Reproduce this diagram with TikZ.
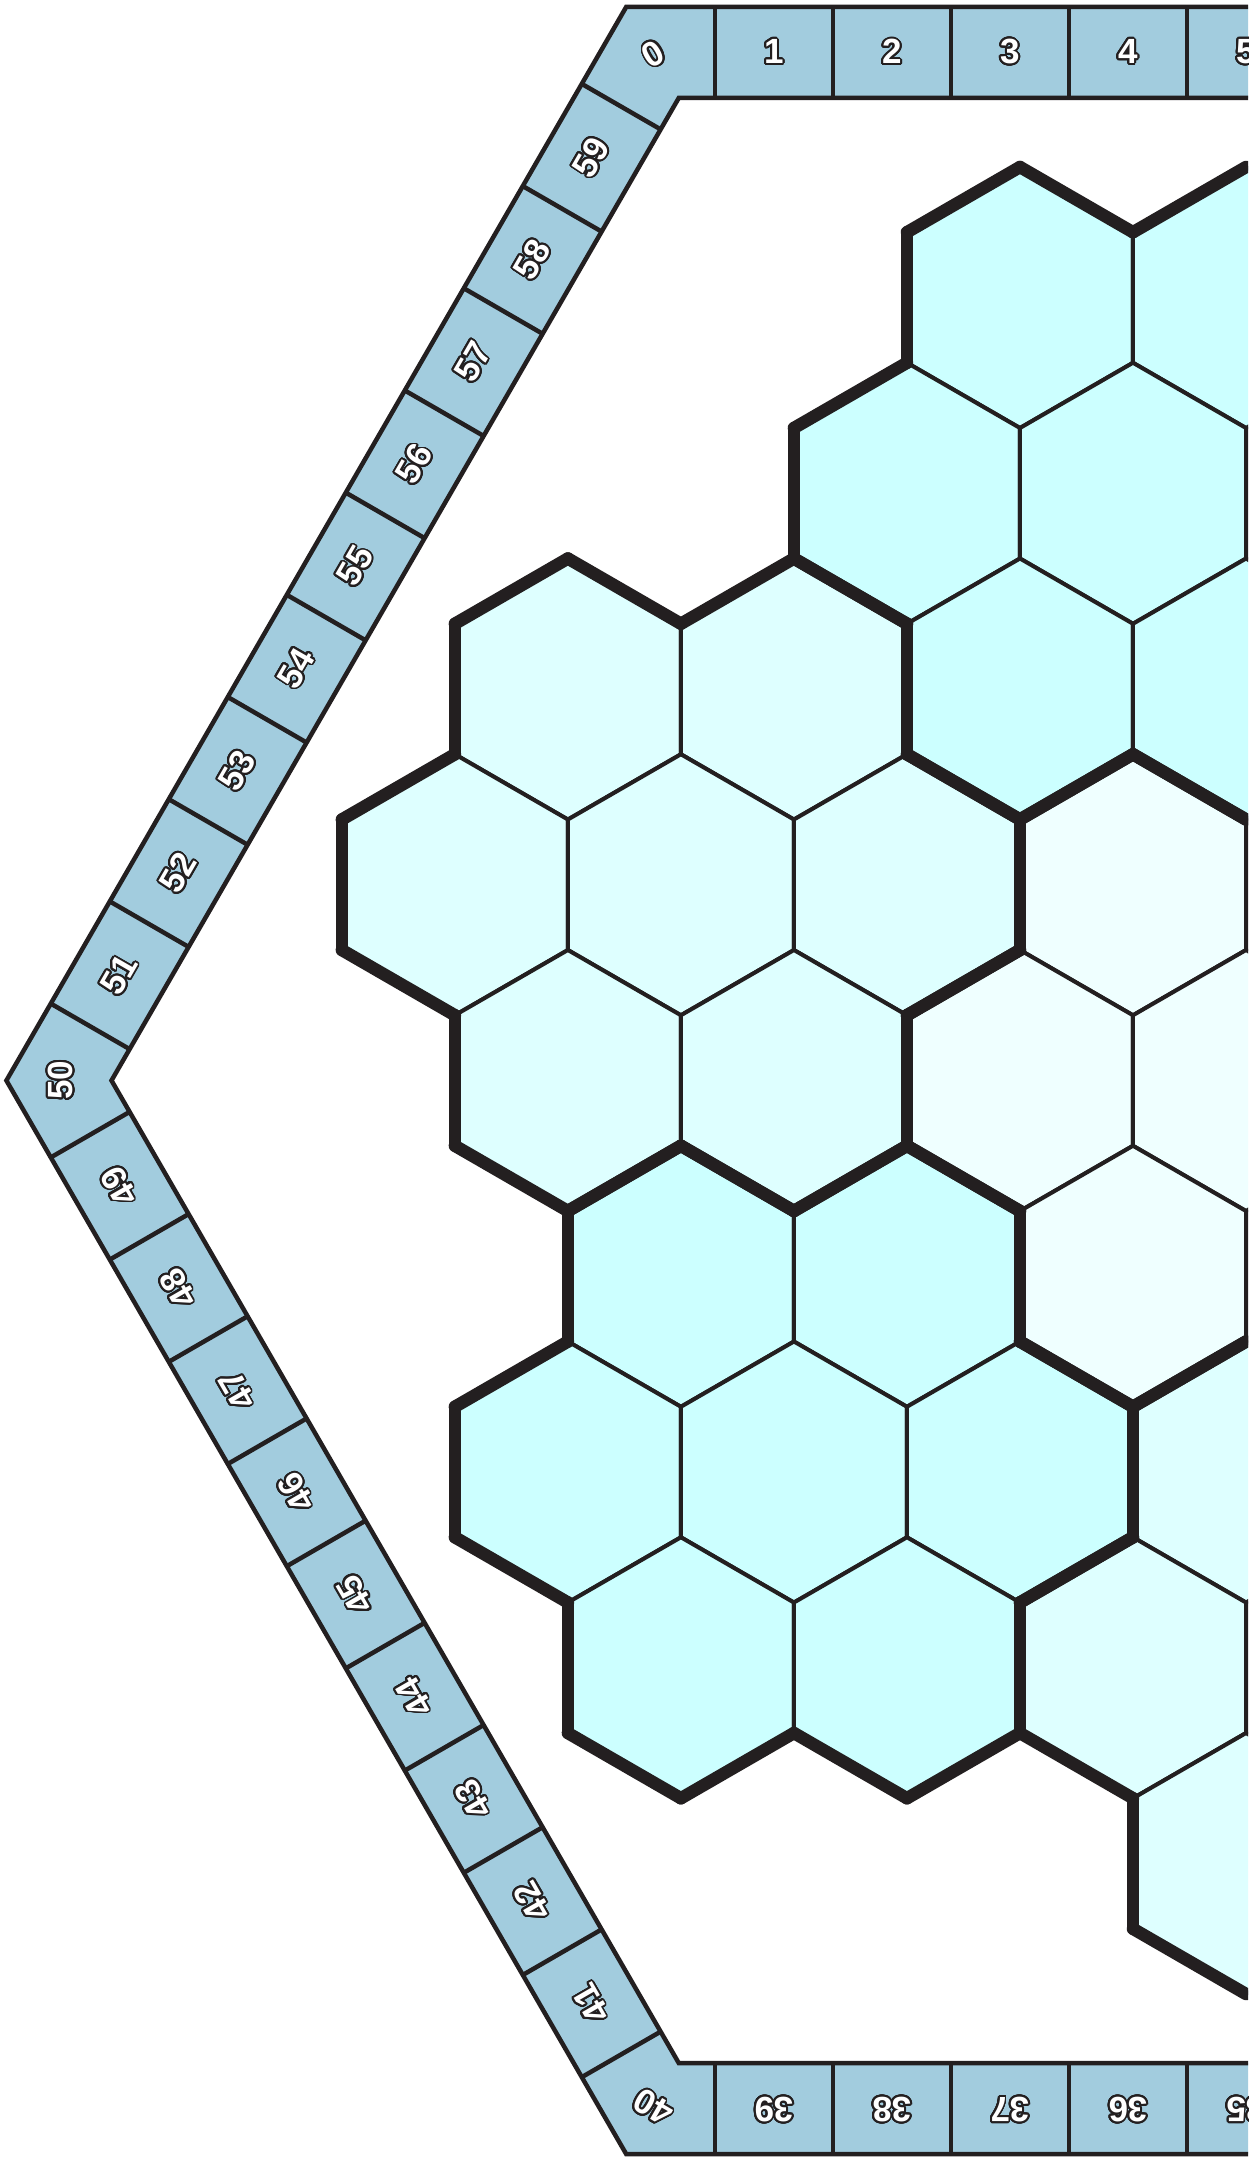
\documentclass[tikz,border=0pt]{standalone}
\usepackage{fontspec}
\setmainfont{Liberation Sans}
\usepackage{contour}
\contourlength{0.9pt}
\contournumber{32}
\usetikzlibrary{calc}
\definecolor{ink}{RGB}{35,31,32}
\definecolor{trackfill}{RGB}{162,204,222}
\definecolor{hexA}{RGB}{204,255,255}
\definecolor{hexB}{RGB}{222,255,255}
\definecolor{hexC}{RGB}{239,255,255}
\definecolor{hexD}{RGB}{204,255,255}
\definecolor{hexE}{RGB}{222,255,255}
\tikzset{
  trackline/.style={draw=ink, line width=2.25pt, line join=miter},
  hexcell/.style={draw=ink, line width=2pt, line join=miter},
  regionedge/.style={draw=ink, line width=6.25pt, line cap=round},
  cellnum/.style={text=white, font=\fontsize{17.5}{20}\selectfont\bfseries, inner sep=0pt},
}
\def\hexlist{0/-2/A,0/0/A,1/-3/A,1/-1/A,2/-2/A,2/0/A,2/-6/B,2/-4/B,3/-7/B,3/-5/B,3/-3/B,4/-6/B,4/-4/B,3/-1/C,4/-2/C,4/0/C,5/-1/C,5/-5/D,5/-3/D,6/-6/D,6/-4/D,6/-2/D,7/-5/D,7/-3/D,6/0/E,7/-1/E,8/0/E}
\begin{document}
\begin{tikzpicture}[x=0.5pt,y=-0.5pt]
\useasboundingbox[fill=white] (0,0) rectangle (1254,2158);
\def\Cx{1246}\def\Cy{1080.5}
\def\Ro{1239.6}\def\Ri{1134.5}\def\Wt{91}\def\La{88.8}\def\Lc{118}
\def\S{130.5}
\pgfmathsetmacro\W{sqrt(3)*\S}
\coordinate (C) at (\Cx,\Cy);
\foreach \j in {0,...,5}{
  \pgfmathsetmacro\al{240+60*\j}
  \coordinate (P\j) at ($(C)+(\al:\Ro)$);
  \coordinate (Q\j) at ($(C)+(\al:\Ri)$);
}
\begin{scope}
\clip (0,0) rectangle (1248,2158);
% track band
\fill[trackfill,even odd rule] (P0)--(P1)--(P2)--(P3)--(P4)--(P5)--cycle (Q0)--(Q1)--(Q2)--(Q3)--(Q4)--(Q5)--cycle;
% region membership
\foreach \hr/\hm/\hg in \hexlist {\expandafter\xdef\csname hx@\hr @\hm\endcsname{\hg}}
% hex cells
\foreach \hr/\hm/\hg in \hexlist {
  \pgfmathsetmacro\hx{\Cx+\hm*\W/2}
  \pgfmathsetmacro\hy{\Cy+(\hr-4)*1.5*\S}
  \draw[hexcell,fill=hex\hg] ($(\hx,\hy)+(30:\S)$) -- ($(\hx,\hy)+(90:\S)$) -- ($(\hx,\hy)+(150:\S)$) -- ($(\hx,\hy)+(210:\S)$) -- ($(\hx,\hy)+(270:\S)$) -- ($(\hx,\hy)+(330:\S)$) -- cycle;
}
% region boundaries
\foreach \hr/\hm/\hg in \hexlist {
  \pgfmathsetmacro\hx{\Cx+\hm*\W/2}
  \pgfmathsetmacro\hy{\Cy+(\hr-4)*1.5*\S}
  \foreach \ph/\dr/\dm in {0/0/2,60/1/1,120/1/-1,180/0/-2,240/-1/-1,300/-1/1}{
    \edef\nr{\the\numexpr\hr+\dr\relax}
    \edef\nm{\the\numexpr\hm+\dm\relax}
    \edef\nb{\ifcsname hx@\nr @\nm\endcsname\csname hx@\nr @\nm\endcsname\else none\fi}
    \edef\me{\hg}
    \pgfmathsetmacro\pa{\ph-30}
    \pgfmathsetmacro\pb{\ph+30}
    \ifnum\nm>0\relax\else
      \ifx\nb\me\else
        \draw[regionedge] ($(\hx,\hy)+(\pa:\S)$) -- ($(\hx,\hy)+(\pb:\S)$);
      \fi
    \fi
  }
}
% track outlines
\draw[trackline] (P0)--(P1)--(P2)--(P3)--(P4)--(P5)--cycle;
\draw[trackline] (Q0)--(Q1)--(Q2)--(Q3)--(Q4)--(Q5)--cycle;
\foreach \j in {0,...,5}{
  \pgfmathsetmacro\al{240+60*\j}
  \pgfmathsetmacro\ua{\al+120}
  \pgfmathsetmacro\na{\al+210}
  \pgfmathsetmacro\rs{-\al-120}
  \pgfmathsetmacro\rc{-\al-90}
  \pgfmathsetmacro\ba{\al+180}
  \pgfmathsetmacro\hw{\Wt/2}
  \foreach \i in {0,...,9}{
    \pgfmathsetmacro\dd{\La+\i*\Lc}
    \draw[trackline] ($(P\j)+(\ua:\dd)$) -- ++(\na:\Wt);
  }
  \pgfmathtruncatemacro\cc{10*\j}
  \node[cellnum, rotate=\rc] (cell\cc) at ($(P\j)+(\ba:55)$) {\contour{ink}{\cc}};
  \foreach \i in {1,...,9}{
    \pgfmathsetmacro\dd{\La+(\i-0.5)*\Lc}
    \pgfmathtruncatemacro\cn{10*\j+\i}
    \node[cellnum, rotate=\rs] (cell\cn) at ($(P\j)+(\ua:\dd)+(\na:\hw)$) {\contour{ink}{\cn}};
  }
}
\end{scope}
\end{tikzpicture}
\end{document}
